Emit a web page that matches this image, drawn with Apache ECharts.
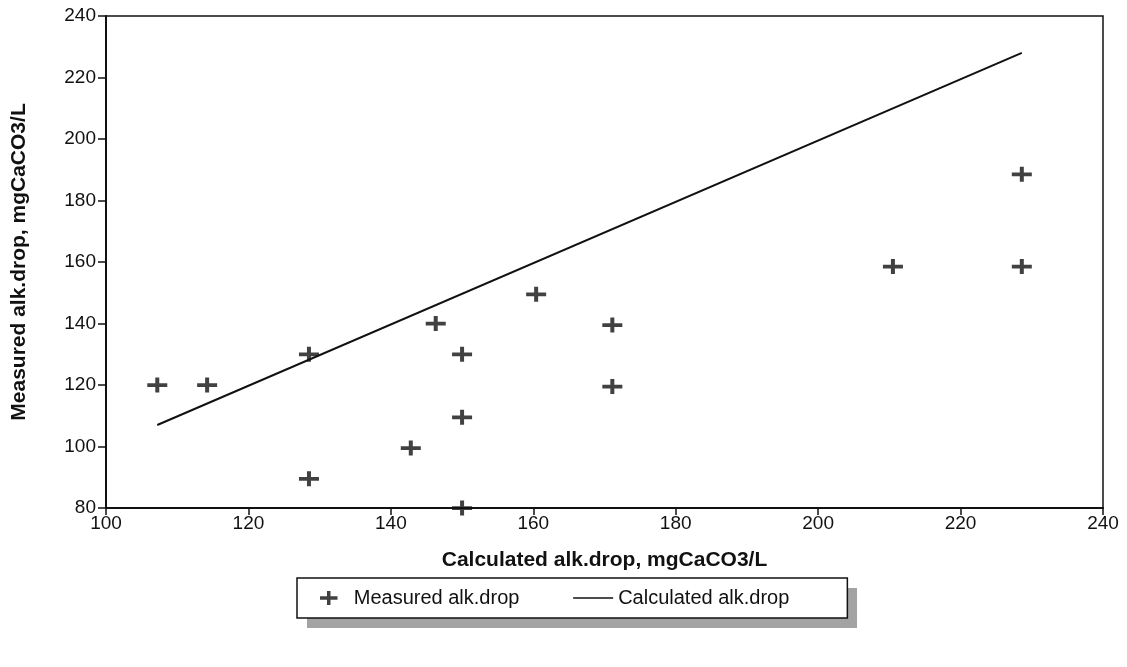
<!DOCTYPE html>
<html>
<head>
<meta charset="utf-8">
<script src="https://cdn.jsdelivr.net/npm/echarts@6/dist/echarts.min.js"></script>
<style>
  html, body { margin: 0; padding: 0; background: #fff; }
  #chart { width: 1127px; height: 667px; }
</style>
</head>
<body>
<div id="chart"></div>
<script>
// measured points (x = calculated, y = measured)
var measuredX = [107.2, 114.2, 128.5, 128.5, 142.8, 146.3, 150, 150, 150, 160.4, 171.1, 171.1, 210.5, 228.6, 228.6];
var measuredY = [120, 120, 130, 89.5, 99.5, 140, 130, 109.5, 80, 149.5, 139.5, 119.5, 158.5, 188.5, 158.5];
// calculated line (y = x)
var calcX = [107.2, 228.6];
var calcY = [107, 228];

var xTicks = [100, 120, 140, 160, 180, 200, 220, 240];
var yTicks = [80, 100, 120, 140, 160, 180, 200, 220, 240];

var plusPath = 'path://M0,6 L8,6 L8,0 L12,0 L12,6 L20,6 L20,10 L12,10 L12,16 L8,16 L8,10 L0,10 Z';
var font = '"Liberation Sans", Arial, sans-serif';

var chart = echarts.init(document.getElementById('chart'));

var scatterData = [];
for (var i = 0; i < measuredX.length; i++) {
    scatterData.push([measuredX[i], measuredY[i]]);
}
var lineData = [];
for (var j = 0; j < calcX.length; j++) {
    lineData.push([calcX[j], calcY[j]]);
}

var option = {
    animation: false,
    backgroundColor: '#fff',
    textStyle: { fontFamily: font },
    grid: {
        left: 106,
        right: 24,
        top: 16,
        bottom: 159,
        outerBoundsMode: 'none',
        show: true,
        borderColor: '#111',
        borderWidth: 1.5
    },
    // grey drop shadow behind the legend box
    graphic: [{
        type: 'rect',
        left: 307,
        top: 588,
        shape: { width: 550, height: 40 },
        style: { fill: '#a3a3a3' },
        z: 1
    }],
    xAxis: {
        type: 'value',
        min: xTicks[0],
        max: xTicks[xTicks.length - 1],
        interval: 20,
        name: 'Calculated alk.drop, mgCaCO3/L',
        nameLocation: 'middle',
        nameGap: 42,
        nameTextStyle: { color: '#111', fontSize: 21, fontWeight: 'bold', fontFamily: font },
        axisLine: { show: true, lineStyle: { color: '#111', width: 2 } },
        axisTick: { show: true, inside: false, length: 7, lineStyle: { color: '#111', width: 1.5 } },
        axisLabel: { color: '#111', fontSize: 19, margin: 6, fontFamily: font },
        splitLine: { show: false }
    },
    yAxis: {
        type: 'value',
        min: yTicks[0],
        max: yTicks[yTicks.length - 1],
        interval: 20,
        name: 'Measured alk.drop, mgCaCO3/L',
        nameLocation: 'middle',
        nameGap: 76,
        nameTextStyle: { color: '#111', fontSize: 21, fontWeight: 'bold', fontFamily: font },
        axisLine: { show: true, lineStyle: { color: '#111', width: 2 } },
        axisTick: { show: true, inside: false, length: 8, lineStyle: { color: '#111', width: 1.5 } },
        axisLabel: { color: '#111', fontSize: 19, margin: 10, fontFamily: font },
        splitLine: { show: false }
    },
    legend: {
        left: 297,
        top: 578,
        itemGap: 53,
        itemWidth: 40,
        itemHeight: 14,
        padding: [10, 58, 10, 23],
        backgroundColor: '#fff',
        borderColor: '#111',
        borderWidth: 1.5,
        z: 5,
        textStyle: { color: '#111', fontSize: 20, fontFamily: font },
        data: [
            { name: 'Measured alk.drop', icon: plusPath, itemStyle: { color: '#111' } },
            { name: 'Calculated alk.drop', itemStyle: { opacity: 0 }, lineStyle: { color: '#111', width: 1.5 } }
        ]
    },
    series: [
        {
            name: 'Measured alk.drop',
            type: 'scatter',
            symbol: plusPath,
            symbolSize: [20, 15],
            itemStyle: { color: '#111' },
            data: scatterData,
            z: 3
        },
        {
            name: 'Calculated alk.drop',
            type: 'line',
            symbol: 'none',
            lineStyle: { color: '#111', width: 2 },
            itemStyle: { color: '#111' },
            data: lineData,
            z: 2
        }
    ]
};

chart.setOption(option);
</script>
</body>
</html>
